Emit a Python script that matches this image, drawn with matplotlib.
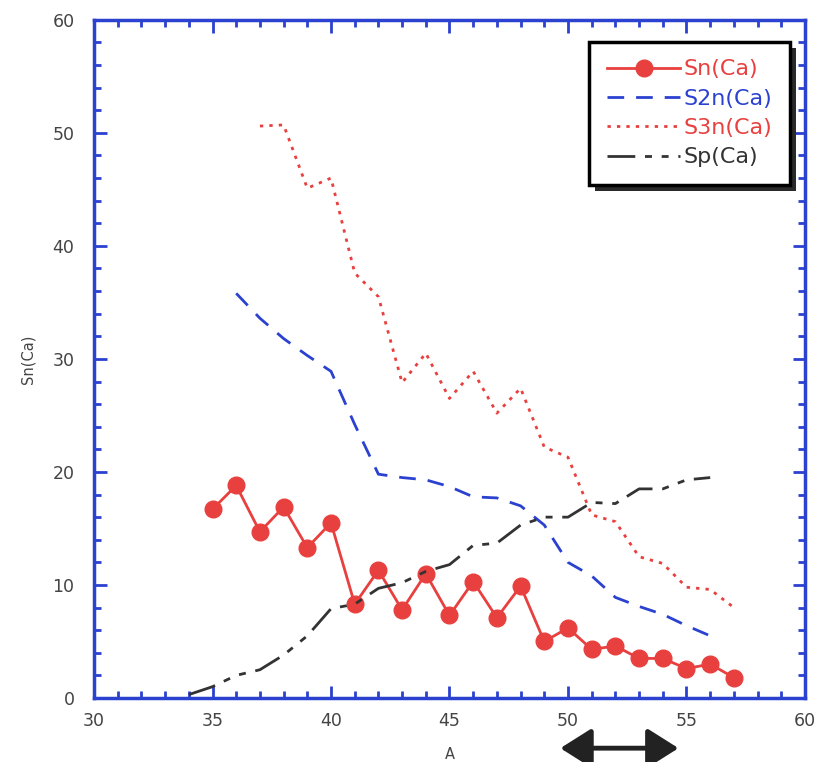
import matplotlib.pyplot as plt
import numpy as np
from matplotlib.patches import Rectangle, FancyArrowPatch

red = "#e8403f"
blue = "#2b41cf"
dark = "#333333"

a_sn = list(range(35, 58))
sn = [16.7, 18.8, 14.7, 16.9, 13.3, 15.5, 8.3, 11.3, 7.8, 11.0, 7.3, 10.3,
      7.1, 9.9, 5.0, 6.2, 4.3, 4.6, 3.5, 3.5, 2.6, 3.0, 1.8]

a_s2n = list(range(36, 57))
s2n = [35.8, 33.6, 31.8, 30.3, 28.9, 24.2, 19.8, 19.5, 19.3, 18.7, 17.8,
       17.7, 17.0, 15.3, 12.0, 10.8, 8.9, 8.1, 7.4, 6.4, 5.5]

a_s3n = list(range(37, 58))
s3n = [50.6, 50.7, 45.1, 46.0, 37.6, 35.5, 27.9, 30.5, 26.5, 28.9, 25.2,
       27.4, 22.2, 21.3, 16.2, 15.6, 12.5, 11.9, 9.8, 9.6, 8.0]

a_sp = list(range(34, 57))
sp = [0.3, 1.0, 2.0, 2.5, 3.8, 5.5, 7.9, 8.3, 9.7, 10.2, 11.2, 11.8, 13.5,
      13.7, 15.3, 16.0, 16.0, 17.3, 17.2, 18.5, 18.5, 19.3, 19.5]

fig = plt.figure(figsize=(8.21, 7.62), dpi=100)
ax = fig.add_axes([0.1145, 0.084, 0.866, 0.89])

ax.plot(a_sn, sn, "o-", color=red, lw=2, markersize=12, label="Sn(Ca)")
ax.plot(a_s2n, s2n, color=blue, lw=2, dashes=(6, 4.3), label="S2n(Ca)")
ax.plot(a_s3n, s3n, color=red, lw=2, dashes=(1.2, 2.2), label="S3n(Ca)")
ax.plot(a_sp, sp, color=dark, lw=2, dashes=(10, 3.5, 2.5, 3.5, 2.5, 3.5),
        label="Sp(Ca)")

ax.set_xlim(30, 60)
ax.set_ylim(0, 60)
ax.set_xticks(np.arange(30, 61, 5))
ax.set_xticks(np.arange(30, 61, 1), minor=True)
ax.set_yticks(np.arange(0, 61, 10))
ax.set_yticks(np.arange(0, 61, 2), minor=True)
ax.tick_params(which="both", direction="in", top=True, right=True,
               color=blue, width=2, labelsize=12.5, labelcolor="#444444")
ax.tick_params(which="major", length=9)
ax.tick_params(which="minor", length=5)
ax.tick_params(axis="x", pad=10)
ax.tick_params(axis="y", pad=14)
for s in ax.spines.values():
    s.set_color(blue)
    s.set_linewidth(2.5)

ax.set_xlabel("A", fontsize=10.5, color="#444444", labelpad=12)
ax.set_ylabel("Sn(Ca)", fontsize=10.5, color="#444444", labelpad=12)

leg = ax.legend(loc="upper right", bbox_to_anchor=(0.979, 0.968),
                fontsize=16, frameon=True, fancybox=False, handlelength=3.3,
                handletextpad=0.15, borderpad=0.8, labelspacing=0.42,
                borderaxespad=0)
leg.get_frame().set_edgecolor("black")
leg.get_frame().set_linewidth(2.5)
leg.get_frame().set_alpha(1)
leg.set_zorder(10)
for t, c in zip(leg.get_texts(), [red, blue, red, dark]):
    t.set_color(c)

fig.canvas.draw()
bb = leg.get_window_extent().transformed(fig.transFigure.inverted())
shadow = Rectangle((bb.x0 + 0.007, bb.y0 - 0.008), bb.width, bb.height,
                   transform=fig.transFigure, facecolor="#2a2a2a",
                   edgecolor="none", zorder=9, clip_on=False)
ax.add_patch(shadow)

arrow = FancyArrowPatch((0.652, -0.074), (0.826, -0.074),
                        transform=ax.transAxes,
                        arrowstyle="<|-|>,head_length=0.95,head_width=0.6",
                        mutation_scale=20, color="#222222", lw=3.5,
                        clip_on=False)
ax.add_artist(arrow)

fig.savefig("out.png", dpi=100)
